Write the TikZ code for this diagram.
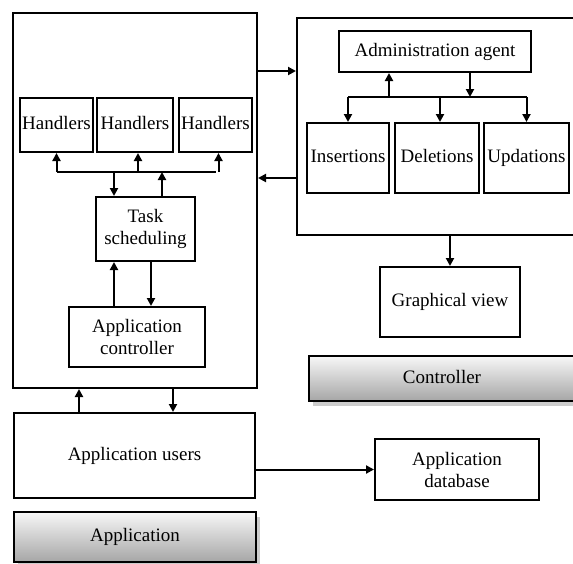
\documentclass[tikz,border=0pt]{standalone}
\usepackage{fontspec}
\setmainfont{Liberation Serif}
\usetikzlibrary{arrows.meta,shadows}
\begin{document}
\begin{tikzpicture}[x=1pt,y=-1pt,
  every node/.style={font=\fontsize{19}{22}\selectfont, align=center, inner sep=0pt},
  box/.style={draw, line width=2pt, fill=white},
  one/.style={text height=12.5pt, text depth=3pt},
  lbl/.style={draw, line width=2pt, top color=gray!6, bottom color=gray!70,
     drop shadow={shadow xshift=4pt, shadow yshift=-5pt, fill=gray!40, opacity=1}},
  arr/.style={line width=2pt, -{Triangle[length=8pt,width=8pt]}},
  ln/.style={line width=2pt}]
\useasboundingbox (0,0) rectangle (573,563);
% containers
\node[box, minimum width=244pt, minimum height=375pt] (main) at (135,200.5) {};
\node[box, minimum width=278pt, minimum height=217pt] (ctr) at (436,126.5) {};
% left inner
\node[box, one, minimum width=73pt, minimum height=54pt] (h1) at (56.5,125) {Handlers};
\node[box, one, minimum width=76pt, minimum height=54pt] (h2) at (135,125) {Handlers};
\node[box, one, minimum width=73pt, minimum height=54pt] (h3) at (215.5,125) {Handlers};
\node[box, minimum width=99pt, minimum height=64pt] (task) at (145.5,229) {Task\\scheduling};
\node[box, minimum width=136pt, minimum height=60pt] (actrl) at (137,337) {Application\\controller};
% right inner
\node[box, one, minimum width=192pt, minimum height=41pt] (admin) at (435,51.5) {Administration agent};
\node[box, one, minimum width=82pt, minimum height=70pt] (ins) at (348,158) {Insertions};
\node[box, one, minimum width=84pt, minimum height=70pt] (del) at (437,158) {Deletions};
\node[box, one, minimum width=85pt, minimum height=70pt] (upd) at (526.5,158) {Updations};
\node[box, one, minimum width=140pt, minimum height=70pt] (gv) at (450,302) {Graphical view};
\node[lbl, one, minimum width=266pt, minimum height=45pt] (clbl) at (442,378.5) {Controller};
% bottom
\node[box, one, minimum width=241pt, minimum height=85pt] (users) at (134.5,455.5) {Application users};
\node[box, minimum width=164pt, minimum height=61pt] (db) at (457,469.5) {Application\\database};
\node[lbl, one, minimum width=242pt, minimum height=50pt] (albl) at (135,537) {Application};
% coordinates for buses
\coordinate (hbus) at (0,172);
\coordinate (abus) at (0,97);
% handler bus
\draw[ln] (h1.south |- hbus) -- (h3.south |- hbus);
\draw[arr] (h1.south |- hbus) -- (h1.south);
\draw[arr] ([xshift=3pt]h2.south |- hbus) -- ([xshift=3pt]h2.south);
\draw[arr] ([xshift=3pt]h3.south |- hbus) -- ([xshift=3pt]h3.south);
\draw[arr] (hbus -| 114,0) -- (task.north -| 114,0);
\draw[arr] (task.north -| 162,0) -- (hbus -| 162,0);
\draw[arr] (actrl.north -| 114,0) -- (task.south -| 114,0);
\draw[arr] (task.south -| 151,0) -- (actrl.north -| 151,0);
% between containers
\draw[arr] (main.east |- 0,71) -- (ctr.west |- 0,71);
\draw[arr] (ctr.west |- 0,178) -- (main.east |- 0,178);
% admin bus
\draw[ln] (ins.north |- abus) -- (upd.north |- abus);
\draw[arr] (abus -| 389,0) -- (admin.south -| 389,0);
\draw[arr] (admin.south -| 470,0) -- (abus -| 470,0);
\draw[arr] (ins.north |- abus) -- (ins.north);
\draw[arr] ([xshift=3pt]del.north |- abus) -- ([xshift=3pt]del.north);
\draw[arr] (upd.north |- abus) -- (upd.north);
\draw[arr] (ctr.south -| gv.north) -- (gv.north);
% bottom connectors
\draw[arr] (users.north -| 79,0) -- (main.south -| 79,0);
\draw[arr] (main.south -| 173,0) -- (users.north -| 173,0);
\draw[arr] (users.east |- db.west) -- (db.west);
\end{tikzpicture}
\end{document}
